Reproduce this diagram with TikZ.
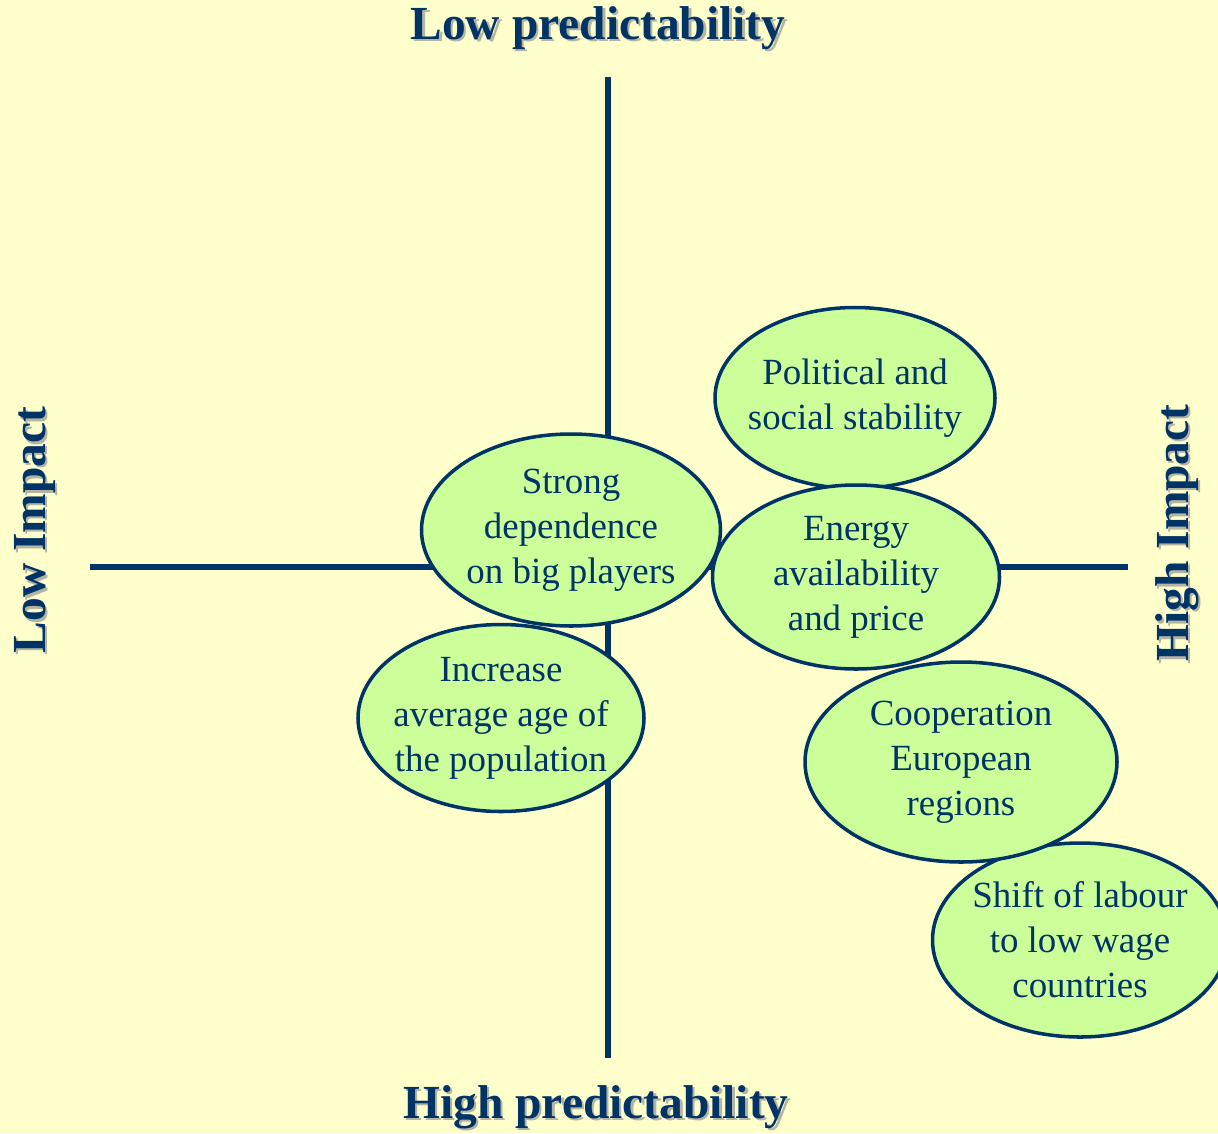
\documentclass[tikz,border=0pt]{standalone}
\usepackage{fontspec}
\setmainfont{Liberation Serif}
\usetikzlibrary{shapes.geometric}
\definecolor{navy}{HTML}{003366}
\definecolor{paper}{HTML}{FFFFCC}
\definecolor{lime}{HTML}{CCFF99}
\definecolor{shade}{HTML}{B4B4A4}
\begin{document}
\begin{tikzpicture}[
        axis/.style={draw=navy, line width=1.5pt},
        factor/.style={ellipse, draw=navy, line width=1pt, fill=lime, text=navy, inner sep=-0.3cm, align=center, font=\fontsize{10.5}{12.8}\selectfont},
        heading/.style={font=\fontsize{13.5}{16}\selectfont\bfseries, text=navy},
        headshadow/.style={heading, text=shade, xshift=0.025cm, yshift=-0.025cm}
    ]
        \fill[paper] (0,0) rectangle (12.18,11.33);
        \useasboundingbox (0,0) rectangle (12.18,11.33);

        % axes
        \coordinate (top) at (6.08,10.56);
        \coordinate (bottom) at (6.08,0.75);
        \coordinate (left) at (0.90,5.66);
        \coordinate (right) at (11.28,5.66);
        \draw[axis] (top) -- (bottom);
        \draw[axis] (left) -- (right);

        % axis titles
        \node[headshadow] at (5.98,11.05) {Low predictability};
        \node[heading] (lowpred) at (5.98,11.05) {Low predictability};
        \node[headshadow] at (5.96,0.26) {High predictability};
        \node[heading] (highpred) at (5.96,0.26) {High predictability};
        \node[headshadow, rotate=90] at (0.35,6.03) {Low Impact};
        \node[heading, rotate=90] (lowimp) at (0.35,6.03) {Low Impact};
        \node[headshadow, rotate=90] at (11.77,6.00) {High Impact};
        \node[heading, rotate=90] (highimp) at (11.77,6.00) {High Impact};

        % factors
        \node[factor, minimum width=2.80cm, minimum height=1.81cm] (politics) at (8.55,7.35) {Political and\\social stability};
        \node[factor, minimum width=2.87cm, minimum height=1.84cm] (energy) at (8.56,5.56) {Energy\\availability\\and price};
        \node[factor, minimum width=2.99cm, minimum height=1.92cm] (players) at (5.71,6.03) {Strong\\dependence\\on big players};
        \node[factor, minimum width=2.86cm, minimum height=1.87cm] (ageing) at (5.01,4.15) {Increase\\average age of\\the population};
        \node[factor, minimum width=2.95cm, minimum height=1.94cm] (labour) at (10.80,1.93) {Shift of labour\\to low wage\\countries};
        \node[factor, minimum width=3.12cm, minimum height=2.00cm] (regions) at (9.61,3.71) {Cooperation\\European\\regions};
    \end{tikzpicture}
\end{document}
